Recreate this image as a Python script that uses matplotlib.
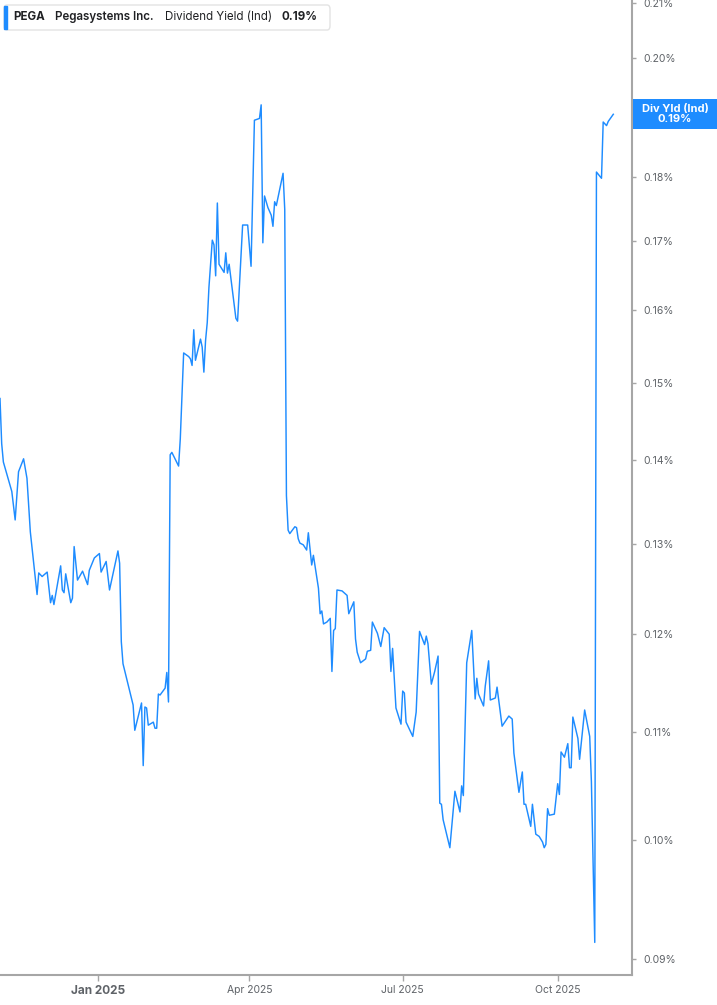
import numpy as np
import pandas as pd
import matplotlib
matplotlib.use("Agg")
import matplotlib.pyplot as plt
from matplotlib.patches import FancyBboxPatch, Rectangle
from matplotlib.ticker import FixedLocator, FuncFormatter, NullLocator

# dividend yield (%)
dates = [
    "2024-11-04", "2024-11-05", "2024-11-06", "2024-11-11", "2024-11-13", "2024-11-15",
    "2024-11-18", "2024-11-20", "2024-11-22", "2024-11-26", "2024-11-27", "2024-11-29",
    "2024-12-02", "2024-12-04", "2024-12-05", "2024-12-06", "2024-12-10", "2024-12-11",
    "2024-12-12", "2024-12-13", "2024-12-16", "2024-12-17", "2024-12-18", "2024-12-20",
    "2024-12-23", "2024-12-26", "2024-12-27", "2024-12-30", "2025-01-02", "2025-01-03",
    "2025-01-06", "2025-01-08", "2025-01-13", "2025-01-14", "2025-01-15", "2025-01-16",
    "2025-01-22", "2025-01-23", "2025-01-27", "2025-01-28", "2025-01-29", "2025-01-30",
    "2025-01-31", "2025-02-03", "2025-02-04", "2025-02-05", "2025-02-06", "2025-02-07",
    "2025-02-10", "2025-02-11", "2025-02-12", "2025-02-13", "2025-02-14", "2025-02-18",
    "2025-02-19", "2025-02-21", "2025-02-24", "2025-02-25", "2025-02-26", "2025-02-27",
    "2025-02-28", "2025-03-03", "2025-03-04", "2025-03-05", "2025-03-06", "2025-03-07",
    "2025-03-08", "2025-03-10", "2025-03-11", "2025-03-12", "2025-03-13", "2025-03-14",
    "2025-03-17", "2025-03-18", "2025-03-19", "2025-03-20", "2025-03-24", "2025-03-25",
    "2025-03-28", "2025-03-31", "2025-04-02", "2025-04-04", "2025-04-07", "2025-04-08",
    "2025-04-09", "2025-04-10", "2025-04-12", "2025-04-14", "2025-04-15", "2025-04-16",
    "2025-04-17", "2025-04-21", "2025-04-22", "2025-04-23", "2025-04-24", "2025-04-25",
    "2025-04-28", "2025-04-29", "2025-04-30", "2025-05-01", "2025-05-03", "2025-05-05",
    "2025-05-06", "2025-05-08", "2025-05-09", "2025-05-12", "2025-05-13", "2025-05-14",
    "2025-05-15", "2025-05-17", "2025-05-19", "2025-05-20", "2025-05-21", "2025-05-22",
    "2025-05-23", "2025-05-26", "2025-05-29", "2025-05-30", "2025-06-02", "2025-06-03",
    "2025-06-04", "2025-06-06", "2025-06-09", "2025-06-10", "2025-06-12", "2025-06-13",
    "2025-06-16", "2025-06-18", "2025-06-20", "2025-06-23", "2025-06-24", "2025-06-25",
    "2025-06-27", "2025-06-30", "2025-07-01", "2025-07-02", "2025-07-03", "2025-07-07",
    "2025-07-09", "2025-07-11", "2025-07-14", "2025-07-15", "2025-07-16", "2025-07-18",
    "2025-07-20", "2025-07-22", "2025-07-23", "2025-07-24", "2025-07-25", "2025-07-29",
    "2025-08-01", "2025-08-04", "2025-08-05", "2025-08-06", "2025-08-08", "2025-08-11",
    "2025-08-13", "2025-08-14", "2025-08-15", "2025-08-18", "2025-08-19", "2025-08-21",
    "2025-08-22", "2025-08-25", "2025-08-26", "2025-08-29", "2025-09-02", "2025-09-04",
    "2025-09-05", "2025-09-08", "2025-09-10", "2025-09-11", "2025-09-12", "2025-09-15",
    "2025-09-16", "2025-09-18", "2025-09-20", "2025-09-22", "2025-09-23", "2025-09-24",
    "2025-09-25", "2025-09-26", "2025-09-29", "2025-10-01", "2025-10-02", "2025-10-03",
    "2025-10-05", "2025-10-07", "2025-10-08", "2025-10-09", "2025-10-10", "2025-10-13",
    "2025-10-14", "2025-10-17", "2025-10-20", "2025-10-21", "2025-10-23", "2025-10-24",
    "2025-10-27", "2025-10-28", "2025-10-30", "2025-10-31", "2025-11-03",
]
yield_pct = [
    0.1479, 0.1421, 0.1398, 0.1362, 0.1328, 0.1386,
    0.1402, 0.1378, 0.1314, 0.1243, 0.1267, 0.1263,
    0.1268, 0.1234, 0.1242, 0.1232, 0.1275, 0.1248,
    0.1245, 0.1266, 0.1234, 0.1239, 0.1297, 0.1259,
    0.1269, 0.1254, 0.1270, 0.1284, 0.1289, 0.1268,
    0.1280, 0.1248, 0.1292, 0.1278, 0.1192, 0.1169,
    0.1127, 0.1102, 0.1129, 0.1068, 0.1125, 0.1124,
    0.1107, 0.1110, 0.1104, 0.1104, 0.1138, 0.1137,
    0.1144, 0.1160, 0.1130, 0.1407, 0.1410, 0.1393,
    0.1427, 0.1540, 0.1535, 0.1532, 0.1523, 0.1572,
    0.1530, 0.1559, 0.1548, 0.1514, 0.1557, 0.1582,
    0.1632, 0.1702, 0.1695, 0.1649, 0.1759, 0.1666,
    0.1654, 0.1683, 0.1653, 0.1666, 0.1588, 0.1584,
    0.1725, 0.1725, 0.1663, 0.1893, 0.1896, 0.1919,
    0.1698, 0.1770, 0.1752, 0.1740, 0.1723, 0.1761,
    0.1755, 0.1806, 0.1749, 0.1357, 0.1316, 0.1312,
    0.1320, 0.1319, 0.1306, 0.1301, 0.1299, 0.1293,
    0.1313, 0.1276, 0.1287, 0.1250, 0.1222, 0.1225,
    0.1211, 0.1213, 0.1217, 0.1161, 0.1204, 0.1206,
    0.1248, 0.1247, 0.1242, 0.1222, 0.1235, 0.1195,
    0.1181, 0.1170, 0.1174, 0.1182, 0.1183, 0.1213,
    0.1201, 0.1187, 0.1207, 0.1200, 0.1161, 0.1185,
    0.1124, 0.1108, 0.1141, 0.1139, 0.1110, 0.1096,
    0.1120, 0.1203, 0.1189, 0.1198, 0.1190, 0.1148,
    0.1161, 0.1177, 0.1033, 0.1032, 0.1018, 0.0993,
    0.1044, 0.1025, 0.1049, 0.1040, 0.1170, 0.1204,
    0.1133, 0.1154, 0.1138, 0.1126, 0.1146, 0.1172,
    0.1132, 0.1134, 0.1145, 0.1106, 0.1116, 0.1113,
    0.1080, 0.1043, 0.1062, 0.1032, 0.1032, 0.1012,
    0.1032, 0.1005, 0.1003, 0.0998, 0.0993, 0.0996,
    0.1028, 0.1022, 0.1023, 0.1051, 0.1041, 0.1081,
    0.1076, 0.1089, 0.1066, 0.1066, 0.1115, 0.1094,
    0.1074, 0.1122, 0.1096, 0.1053, 0.0913, 0.1808,
    0.1798, 0.1890, 0.1884, 0.1891, 0.1903,
]

ticker = "PEGA"
company = "Pegasystems Inc."
metric = "Dividend Yield (Ind)"
tag_name = "Div Yld (Ind)"
y_ticks = [0.09, 0.10, 0.11, 0.12, 0.13, 0.14, 0.15, 0.16, 0.17, 0.18, 0.19, 0.20, 0.21]
x_ticks = ["2025-01-01", "2025-04-01", "2025-07-01", "2025-10-01"]
x_labels = ["Jan 2025", "Apr 2025", "Jul 2025", "Oct 2025"]

blue = "#1e8cff"
grey = "#a6a6a6"
txt = "#5f6368"

plt.rcParams["font.family"] = ["Inter", "DejaVu Sans"]

W, H = 717, 1005
fig = plt.figure(figsize=(W / 100, H / 100), dpi=100)
ax_w = 632
ax = fig.add_axes([0, 30 / H, ax_w / W, 1 - 30 / H])

x = pd.to_datetime(dates)
ax.plot(x, yield_pct, color=blue, lw=1.05)

ymin, ymax = 0.0887, 0.2106
ax.set_yscale("log")
ax.set_ylim(ymin, ymax)
jan = pd.Timestamp("2025-01-01")
ax.set_xlim(jan - pd.Timedelta(days=58.0), jan + pd.Timedelta(days=317.1))

last = yield_pct[-1]


def ylab(v, p):
    # the 0.19% label sits under the value tag
    if abs(v - round(last, 2)) < 1e-9:
        return ""
    return f"{v:.2f}%"


ax.yaxis.tick_right()
ax.yaxis.set_major_locator(FixedLocator(y_ticks))
ax.yaxis.set_minor_locator(NullLocator())
ax.yaxis.set_major_formatter(FuncFormatter(ylab))
ax.tick_params(axis="y", which="major", length=3, width=1, color=grey,
               labelsize=7.5, labelcolor=txt, pad=5)

xt = pd.to_datetime(x_ticks)
ax.set_xticks(xt)
ax.set_xticklabels(x_labels)
ax.tick_params(axis="x", length=4, width=1, color=grey, labelsize=7.5,
               labelcolor=txt, pad=3.5)
for lab in ax.get_xticklabels():
    if lab.get_text().startswith("Jan"):
        lab.set_fontweight("bold")
        lab.set_fontsize(8.5)

for s in ["top", "left"]:
    ax.spines[s].set_visible(False)
for s in ["right", "bottom"]:
    ax.spines[s].set_color(grey)
    ax.spines[s].set_linewidth(1.5)

# header box
hdr = FancyBboxPatch((4 / W, 1 - 30 / H), 326 / W, 25 / H,
                     boxstyle="round,pad=0,rounding_size=0.004",
                     transform=fig.transFigure, facecolor="white",
                     edgecolor="#e3e3e3", lw=1, zorder=5)
fig.add_artist(hdr)
fig.add_artist(Rectangle((4 / W, 1 - 29 / H), 3 / W, 23 / H,
                         transform=fig.transFigure, color=blue, zorder=6))
yh = 1 - 17 / H
fs = 8.3
fig.text(13 / W, yh, ticker, fontsize=fs, fontweight="bold", color="#202124",
         va="center", zorder=7)
fig.text(55 / W, yh, company, fontsize=fs, fontweight="semibold", color="#202124",
         va="center", zorder=7)
fig.text(165 / W, yh, metric, fontsize=fs, color="#202124", va="center", zorder=7)
fig.text(282 / W, yh, f"{last:.2f}%", fontsize=fs, fontweight="bold",
         color="#202124", va="center", zorder=7)

# last value tag on the right axis
ay = (np.log(last) - np.log(ymin)) / (np.log(ymax) - np.log(ymin))
ax_h = H - 30
tag_h = 30 / ax_h
ax.add_patch(Rectangle((1.0 + 1 / ax_w, ay - tag_h / 2), 85 / ax_w, tag_h,
                       transform=ax.transAxes, facecolor=blue, edgecolor="none",
                       clip_on=False, zorder=8))
ax.text(1.0 + 43 / ax_w, ay, f"{tag_name}\n{last:.2f}%",
        transform=ax.transAxes, ha="center", va="center",
        fontsize=8, fontweight="bold", color="white", linespacing=1.0,
        clip_on=False, zorder=9)

fig.savefig("out.png", dpi=100, facecolor="white")
